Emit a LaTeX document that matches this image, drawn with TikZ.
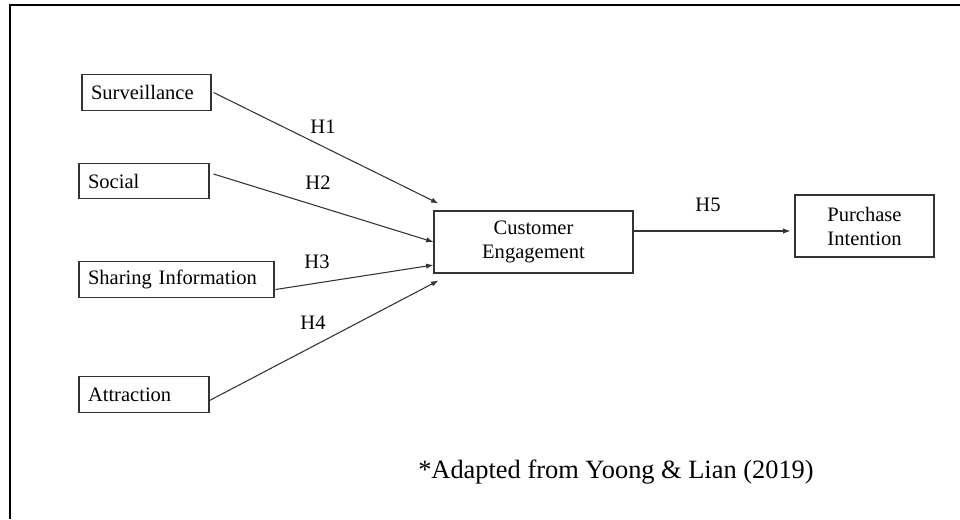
\documentclass[tikz,border=0pt]{standalone}
\usepackage{fontspec}
\setmainfont{Liberation Serif}
\usetikzlibrary{arrows.meta,calc}
\begin{document}
\begin{tikzpicture}[x=0.75pt,y=-0.75pt,
  box/.style={draw=black!80, line width=0.8pt, rectangle, inner ysep=0pt,
    font=\fontsize{15.4}{18}\selectfont},
  lbox/.style={box, align=left, inner xsep=6.75pt, text width=#1, minimum height=26.5pt},
  cbox/.style={box, align=center, inner xsep=0pt, minimum width=#1, minimum height=46.5pt},
  conn/.style={draw=black!80, line width=0.8pt, -{Latex[length=5.5pt,width=4pt]}},
  hlab/.style={font=\fontsize{15.4}{18}\selectfont, inner sep=0pt},
  frame/.style={line width=1.6pt, draw=black}
]
\useasboundingbox (0,0) rectangle (960,519);
\draw[frame] (10,519) -- (10,5) -- (960,5);

\node[lbox=83.25pt] (sur) at (146.5,92.5) {Surveillance};
\node[lbox=84pt] (soc) at (144,181) {Social};
\node[lbox=132.75pt] (sha) at (176.5,279.5) {Sharing Information};
\node[lbox=84pt] (att) at (144,394.5) {Attraction};
\node[cbox=149.25pt] (ce) at (533.5,242) {Customer\\Engagement};
\node[cbox=104.25pt] (pi) at (864.5,226) {Purchase\\Intention};

\draw[conn] ($(sur.east)+(2,0)$) -- ($(ce.north west)+(5,-7)$);
\draw[conn] ($(soc.east)+(4,-7)$) -- (ce.west);
\draw[conn] ($(sha.east)+(1,10)$) -- ($(ce.west)+(0,23)$);
\draw[conn] ($(att.east)+(0,6)$) -- ($(ce.south west)+(5,7)$);
\coordinate (h5s) at ($(ce.east)+(0,-11)$);
\draw[conn] (h5s) -- ($(h5s -| pi.west)+(-4,0)$);

\node[hlab] (h1) at (323,127) {H1};
\node[hlab] (h2) at (318,183) {H2};
\node[hlab] (h3) at (317,262) {H3};
\node[hlab] (h4) at (313,323) {H4};
\node[hlab] (h5) at (708,205) {H5};

\node[inner sep=0pt, font=\fontsize{19.8}{24}\selectfont] (cap) at (616,472) {*Adapted from Yoong \& Lian (2019)};
\end{tikzpicture}
\end{document}
